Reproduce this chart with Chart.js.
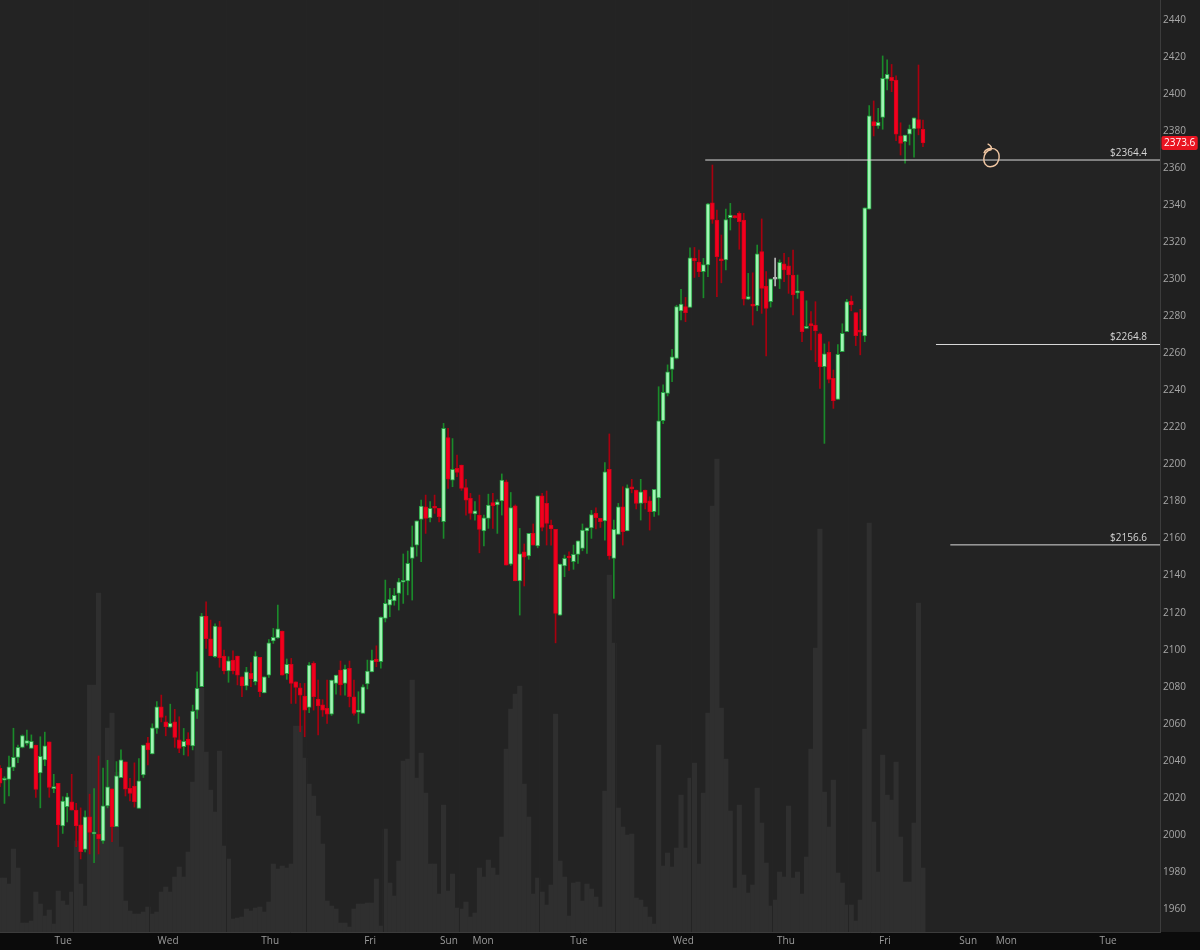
<!DOCTYPE html>
<html>
<head>
<meta charset="utf-8">
<script src="https://cdn.jsdelivr.net/npm/chart.js@4.4.1/dist/chart.umd.min.js"></script>
<style>
html,body{margin:0;padding:0;background:#232323;}
canvas{display:block;}
</style>
</head>
<body>
<canvas id="c" width="1200" height="950"></canvas>
<script>
// ---------------- DATA (hourly candles) ----------------
const opens = [
2036,2029.5,2030,2036.5,2041.9,2047.3,2049.4,2046.7,2048.5,2033.5,
2040.5,2050.2,2025,2027.8,2004.9,2015.2,2017.8,2013.4,2005.4,1992.2,
2009.8,2000.5,2000.3,1996.7,2015.6,2024.9,2004.4,2030.9,2039.4,2025.1,
2026.4,2014.3,2032.4,2049.7,2043.7,2057.5,2069.2,2061.1,2058.2,2061.1,
2051.3,2047.6,2051.8,2048,2067.4,2080,2118.2,2105.9,2096.2,2112.4,
2096.6,2088.5,2094.4,2096.6,2085.4,2080.4,2087.2,2082.7,2095.9,2076.7,
2086.3,2104.8,2106.4,2110.1,2087,2092.1,2082.7,2079.4,2075,2068.9,
2092.6,2073.4,2070.2,2068.3,2065.2,2081.8,2089,2081.8,2090,2074.6,
2066.3,2065.6,2081.5,2088,2095,2093.5,2116.9,2124,2126.3,2130.4,
2136.4,2137.2,2149.3,2156.5,2170.4,2177.2,2171.2,2176.8,2176.3,2169.1,
2214.6,2191.6,2197.9,2199.7,2187.6,2181.7,2173.3,2172.7,2164.2,2170.9,
2179.5,2178.2,2180.4,2190.7,2146.2,2177.7,2137.1,2152.9,2150.7,2162.8,
2156,2183.1,2179,2167.3,2165,2118.7,2145.3,2149.8,2147.5,2151.5,
2154.7,2164.2,2165.8,2173.6,2170.9,2169.6,2197.4,2149.3,2162.3,2177.2,
2164.2,2188,2186.2,2179,2186.2,2180.4,2174.5,2182,2223.6,2238.4,
2251.4,2257.3,2282.9,2285.2,2284.8,2311.3,2309.3,2304.1,2307.7,2341.3,
2332,2311,2310.4,2333.3,2334.2,2335.6,2332,2289.2,2286.6,2285.7,
2314.9,2296.4,2287.9,2300,2300,2308.3,2307.3,2302.3,2292.7,2293.7,
2273.5,2275.9,2275.3,2270.5,2252.8,2260.6,2246.5,2235.2,2260.9,2271.7,
2288.2,2282,2272.6,2269.4,2337.8,2385.1,2382.8,2387.4,2408.1,2409,
2407.6,2377.4,2374.3,2378.3,2381.2,2386.3,2381];
const highs = [
2037.5,2031.4,2042.6,2057.6,2048.5,2054,2056.6,2054,2048.5,2053,
2055.5,2050.2,2032.7,2027.8,2020.6,2022.5,2032.7,2017,2014.6,2013,
2022,2025,2042.6,2036.1,2040.3,2024.9,2039.6,2046,2039.4,2030.5,
2038.9,2041.2,2048.5,2052.7,2060,2072,2075.5,2064.2,2070.6,2067.8,
2063.8,2057.5,2055.2,2070.1,2088.1,2119.6,2125.8,2116,2114,2115.3,
2099.8,2096.2,2099.4,2096.6,2085.4,2090.5,2093,2098.9,2095.9,2085.4,
2105.5,2111.5,2124.1,2110.1,2095,2095.3,2082.7,2081.8,2081.8,2093,
2093.5,2083.6,2073,2083.6,2083.6,2086.3,2093.9,2091.7,2093.9,2083.6,
2077.3,2081,2094.4,2099.8,2102.1,2117.8,2137.6,2133.1,2133.1,2138.5,
2151.7,2153.3,2166.8,2169.6,2180.8,2183.5,2180,2183.5,2176.3,2222.2,
2219.5,2214,2205.1,2199.7,2192,2184.4,2180,2183.5,2172.7,2184,
2184.4,2181,2194.9,2191.6,2184.9,2178.2,2165.5,2157.1,2162.8,2167.9,
2183.1,2184.4,2185.7,2170,2165,2146.3,2151.1,2152.9,2156.5,2158.8,
2167.9,2165.8,2175.2,2176.6,2171,2201,2216.5,2170,2179,2188,
2189,2192,2186.2,2192,2186.2,2182.6,2186.6,2242,2243,2253.8,
2262.2,2286,2294.6,2290.2,2317,2317.2,2315.8,2311.3,2341,2361.7,
2337.4,2323.9,2337.9,2341,2334.5,2336.5,2335.6,2303.2,2303.5,2318.5,
2332.6,2304.1,2300.2,2311.5,2310.5,2314,2311.8,2315.8,2302.3,2293.7,
2288.4,2282.5,2287.9,2271.1,2265.1,2266.3,2251,2264.7,2276,2289.2,
2291,2282,2283.8,2338.6,2393.8,2396.3,2392.3,2420.6,2418.5,2416,
2409.8,2384.5,2377.9,2383.3,2387.2,2415.7,2386];
const lows = [
2026,2017,2021,2034.7,2039,2047,2048.5,2046.7,2020.3,2014.6,
2037.4,2020.3,2022.8,1993.6,2000.8,2007,2013.4,1993.6,1987,1990.8,
1989.7,1985,1989.7,1995.4,2014.6,1996.3,2004.4,2030.9,2021,2018.4,
2015,2014.3,2031,2037.8,2043.7,2054.8,2061,2053.5,2058,2047.3,
2044.4,2043.2,2042.6,2045.9,2062.9,2080,2100.7,2096.7,2095.8,2090.5,
2086.9,2082.4,2086.9,2081,2074.6,2078.3,2080,2081,2074.6,2076.7,
2085,2103.4,2106.1,2086.3,2084,2071,2071,2055.7,2053,2066,
2067.4,2054,2064,2060.2,2064.5,2076,2075.5,2075.5,2069.1,2064.7,
2060.2,2065.6,2078.8,2088,2090.8,2090,2115,2117.8,2124,2121.4,
2125,2129.6,2126.8,2150.5,2147.5,2162.8,2169,2173.6,2169,2160.1,
2187.1,2188,2193.4,2186,2172.7,2170.4,2170,2152.3,2156,2165.5,
2165.5,2162.8,2172.7,2145.7,2145.5,2137.2,2118.7,2134.4,2148.8,2156.5,
2155,2164.2,2156.5,2156.5,2103.7,2118.5,2139.4,2142.8,2143.4,2146.6,
2153.4,2152,2160.1,2165.2,2166,2159.2,2148.8,2127.7,2162.3,2156.5,
2164.2,2184.7,2176,2170,2176,2164.6,2172,2172.7,2222,2237,
2244.7,2257,2278,2277.1,2284.8,2301,2301.4,2290,2301.4,2330.2,
2290.6,2298.1,2305,2326.6,2333,2316.2,2286.1,2289,2275.3,2283,
2281.6,2258.6,2285,2296.4,2295,2298.7,2292.4,2280.7,2289.7,2266.3,
2273.5,2261.8,2255.5,2241.1,2211.4,2244,2230.3,2235.2,2260.9,2271.7,
2283,2264.2,2259.2,2266.3,2337.8,2377.4,2381.5,2381,2402.2,2401.3,
2374.8,2367.1,2362.7,2372.5,2366,2378,2371.6];
const closes = [
2028,2030.5,2036.8,2041.9,2047.3,2053.7,2051,2050.5,2024.6,2042.4,
2048.1,2025.7,2025.2,2005.4,2018.3,2020.6,2013.4,2004.9,1991,2009.8,
2001.4,2000.7,1997.8,2015.7,2026,2004.4,2031.9,2040.5,2024.7,2022.4,
2017.9,2029.2,2048.5,2045.9,2057.8,2069.2,2063.5,2058.4,2060.3,2052.7,
2046.7,2050.5,2048.5,2066.9,2079.1,2118.2,2105.9,2096.7,2112.8,2095.6,
2088.5,2094,2088.5,2086.3,2080.4,2088.1,2084.2,2096.6,2077.3,2085.4,
2103.7,2106.7,2111.3,2086.3,2092.1,2081.8,2079.7,2075.5,2067.4,2091.7,
2074.6,2069.7,2067.4,2065.2,2083.6,2086.3,2081,2089.6,2074.6,2065.6,
2066.7,2080,2088.5,2094.4,2093.5,2117.6,2125,2127.2,2129.3,2136.7,
2136.9,2146.6,2155.6,2169.6,2177.6,2170.9,2176.3,2176.4,2171.8,2219.5,
2192.1,2197.4,2195.7,2187.1,2180.8,2173.6,2175,2165,2171.2,2178.1,
2177.7,2179.9,2191.6,2145.7,2176.8,2137.2,2151.7,2149.9,2162.8,2156.5,
2183.1,2166,2168.2,2165.2,2119.6,2146.3,2149.3,2149.5,2151.5,2158.8,
2164.6,2165.8,2172.9,2171.2,2169.1,2196.1,2150.6,2165,2177.2,2163.7,
2187.4,2186.8,2179,2185.3,2179.3,2174.5,2186.6,2223.6,2238.9,2250,
2258.2,2285.2,2286.6,2282,2311.6,2310,2304.1,2308,2340.7,2332.3,
2312.2,2310,2332.3,2334.7,2333.3,2331.1,2289.2,2290.6,2285.5,2313.7,
2295.1,2284.3,2300.2,2300,2309.1,2305,2302.3,2291.5,2293.1,2271.7,
2274.4,2275,2272.2,2252.8,2259.7,2246,2234.4,2259.5,2270.8,2287.9,
2286.1,2269.5,2271.5,2338.6,2388.2,2382.8,2384.8,2408.5,2410.6,2407.2,
2378.3,2373.4,2377.9,2381.2,2387.2,2381.5,2373.6];
const volumes = [
54,54,48,83,64,9,9,11,40,28,
16,22,8,41,31,27,40,91,48,26,
247,247,339,120,204,219,160,85,31,21,
18,18,20,25,18,20,40,45,40,55,
65,55,80,150,244,244,180,142,120,181,
86,73,13,14,15,23,21,24,25,20,
30,68,63,66,64,68,206,206,174,148,
136,116,88,31,26,23,9,9,5,23,
28,28,29,29,53,6,103,49,36,71,
171,173,252,154,179,139,68,68,38,127,
41,58,24,23,30,15,19,64,55,72,
64,57,95,183,223,238,246,148,115,38,
54,40,27,47,218,71,55,16,49,50,
31,48,43,35,25,141,357,289,124,105,
97,98,34,32,25,15,8,187,66,79,
65,84,137,84,154,169,68,139,219,426,
473,224,173,121,44,127,57,39,47,144,
109,69,26,32,60,55,126,54,60,38,
75,183,284,403,140,105,152,59,49,27,
27,11,32,203,409,110,60,177,137,132,
170,95,50,50,109,329,64];

const dayLabels    = ['Tue','Wed','Thu','Fri','Sun','Mon','Tue','Wed','Thu','Fri','Sun','Mon','Tue'];
const dayTickIndex = [14.1,37.5,60.3,82.6,100.2,107.8,129.2,152.5,175.4,197.5,216.1,224.6,247.3];
const sessionBreaks = [16.2,33.3,50.4,68.3,85.5,102.5,120.3,137.3,154.2,172.3,189.3];
const priceTicks = [1960,1980,2000,2020,2040,2060,2080,2100,2120,2140,2160,2180,2200,2220,2240,2260,2280,2300,2320,2340,2360,2380,2400,2420,2440];
const levelPrices = [2364.4, 2264.8, 2156.6];
const levelStartIndex = [157.4, 208.9, 212.1];
const lastPrice = 2373.6;
const markIndex = 221.2, markPrice = 2366.2;   // hand-drawn loop
const xMaxIndex = 258.9;
const priceMin = 1947.58, priceMax = 2450.8;
const volumeMax = 932;

// ---------------- BUILD ----------------
const idx = opens.map((_, i) => i);
const dir = idx.map(i => closes[i] > opens[i] ? 1 : (closes[i] < opens[i] ? -1 : 0));
const UP_FILL = '#9ff5b3', UP_BORDER = '#26a443', UP_WICK = '#1a8a2a';
const DN_FILL = '#f2001e', DN_BORDER = '#d40019', DN_WICK = '#a8000f';
const FLAT = '#b8b8b8';

const volData  = idx.map(i => ({x: i, y: volumes[i]}));
const wickData = idx.map(i => ({x: i, y: [lows[i], highs[i]]}));
const bodyData = idx.map(i => ({x: i, y: [opens[i], closes[i]]}));

const levelSets = levelPrices.map((p, k) => ({
  type: 'line',
  data: [{x: levelStartIndex[k], y: p}, {x: xMaxIndex, y: p}],
  borderColor: '#dadada', borderWidth: 1, pointRadius: 0, yAxisID: 'y', order: 0
}));

Chart.defaults.font.family = "'Open Sans', 'DejaVu Sans', sans-serif";

const decor = {
  id: 'decor',
  beforeDraw(chart) {
    const {ctx, chartArea: a, width, height} = chart;
    ctx.save();
    ctx.fillStyle = '#202020'; ctx.fillRect(0, 0, width, height);
    ctx.fillStyle = '#232323'; ctx.fillRect(a.left, a.top, a.right - a.left, a.bottom - a.top);
    ctx.fillStyle = '#0b0b0b'; ctx.fillRect(0, a.bottom, width, height - a.bottom);
    ctx.restore();
  },
  afterDatasetDraw(chart, args) {
    if (args.index !== 0) return;
    const {ctx, chartArea: a, scales: {x}} = chart;
    ctx.save();
    ctx.strokeStyle = '#242424'; ctx.lineWidth = 1;
    sessionBreaks.forEach(v => {
      const px = Math.round(x.getPixelForValue(v)) + 0.5;
      ctx.beginPath(); ctx.moveTo(px, a.top); ctx.lineTo(px, a.bottom); ctx.stroke();
    });
    ctx.restore();
  },
  afterDraw(chart) {
    const {ctx, chartArea: a, scales: {x, y}} = chart;
    ctx.save();
    // level labels
    ctx.font = "10px 'Open Sans'";
    ctx.fillStyle = '#d6d6d6';
    ctx.textAlign = 'right'; ctx.textBaseline = 'alphabetic';
    levelPrices.forEach(p => {
      const py = y.getPixelForValue(p);
      ctx.fillText('$' + p.toFixed(1), a.right - 13, py - 4);
    });
    // last price tag
    const ty = y.getPixelForValue(lastPrice);
    const label = lastPrice.toFixed(1);
    ctx.font = "10px 'Open Sans'";
    const tw = ctx.measureText(label).width;
    const rx = a.right + 1.5, rw = tw + 5, rh = 14;
    ctx.fillStyle = '#ea1421';
    ctx.beginPath();
    ctx.roundRect(rx, ty - rh / 2, rw, rh, 2);
    ctx.fill();
    ctx.fillStyle = '#ffffff';
    ctx.textAlign = 'left'; ctx.textBaseline = 'middle';
    ctx.fillText(label, rx + 2.5, ty + 0.5);
    // hand-drawn loop
    const cx = x.getPixelForValue(markIndex), cy = y.getPixelForValue(markPrice);
    ctx.strokeStyle = '#f2c8a4'; ctx.lineWidth = 1.4; ctx.lineCap = 'round';
    ctx.beginPath();
    ctx.moveTo(cx - 3, cy - 12.5);
    ctx.quadraticCurveTo(cx + 1.5, cy - 10, cx, cy - 7);
    ctx.bezierCurveTo(cx - 9, cy - 6, cx - 10, cy + 10, cx - 1, cy + 10);
    ctx.bezierCurveTo(cx + 8, cy + 10, cx + 10, cy - 1, cx + 6, cy - 6);
    ctx.bezierCurveTo(cx + 3, cy - 9.5, cx - 5, cy - 9, cx - 7, cy - 4);
    ctx.stroke();
    ctx.restore();
  }
};

new Chart(document.getElementById('c'), {
  type: 'bar',
  data: {
    datasets: [
      {type: 'bar', data: volData, yAxisID: 'yv', backgroundColor: '#2f2f2f',
       barPercentage: 1, categoryPercentage: 1, grouped: false, borderWidth: 0, order: 3},
      {type: 'bar', data: wickData, yAxisID: 'y',
       backgroundColor: dir.map(d => d > 0 ? UP_WICK : d < 0 ? DN_WICK : FLAT),
       barThickness: 1, grouped: false, borderWidth: 0, order: 2},
      {type: 'bar', data: bodyData, yAxisID: 'y',
       backgroundColor: dir.map(d => d > 0 ? UP_FILL : d < 0 ? DN_FILL : FLAT),
       borderColor: dir.map(d => d > 0 ? UP_BORDER : d < 0 ? DN_BORDER : FLAT),
       borderWidth: 1, borderSkipped: false, barThickness: 4, minBarLength: 2,
       grouped: false, order: 1},
      ...levelSets
    ]
  },
  options: {
    responsive: false,
    devicePixelRatio: 1,
    animation: false,
    events: [],
    layout: {padding: 0},
    plugins: {legend: {display: false}, tooltip: {enabled: false}},
    scales: {
      x: {
        type: 'linear', min: 0, max: xMaxIndex, offset: false,
        grid: {display: false, drawTicks: false},
        border: {display: true, color: '#3c3c3c'},
        afterBuildTicks: s => { s.ticks = dayTickIndex.map(v => ({value: v})); },
        afterFit: s => { s.height = 18; s.paddingLeft = 0; s.paddingRight = 0; },
        ticks: {autoSkip: false, maxRotation: 0, padding: 3, color: '#9c9c9c',
                font: {size: 10}, callback: (v, i) => dayLabels[i]}
      },
      y: {
        position: 'right', min: priceMin, max: priceMax,
        grid: {display: false, drawTicks: false},
        border: {display: true, color: '#3c3c3c'},
        afterBuildTicks: s => { s.ticks = priceTicks.map(v => ({value: v})); },
        afterFit: s => { s.width = 40; s.paddingTop = 0; s.paddingBottom = 0; },
        ticks: {padding: 3, color: '#a6a6a6', font: {size: 10}, callback: v => String(v)}
      },
      yv: {display: false, min: 0, max: volumeMax}
    }
  },
  plugins: [decor]
});
</script>
</body>
</html>
